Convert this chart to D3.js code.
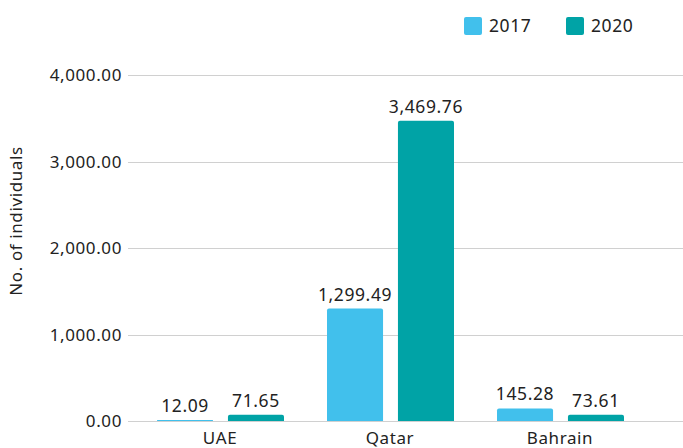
<!DOCTYPE html>
<html>
<head>
<meta charset="utf-8">
<script src="https://cdn.jsdelivr.net/npm/d3@7"></script>
<style>
  body { margin: 0; background: #fff; }
  text { font-family: "Noto Sans", Lato, sans-serif; fill: #222; letter-spacing: 0.6px; }
</style>
</head>
<body>
<div id="chart"></div>
<script>
var countries = ["UAE", "Qatar", "Bahrain"];
var seriesNames = ["2017", "2020"];
var values2017 = [12.09, 1299.49, 145.28];
var values2020 = [71.65, 3469.76, 73.61];
var yTicks = [0, 1000, 2000, 3000, 4000];
var colors = ["#41c0ec", "#00a3a6"];

var width = 683;
var height = 448;

var svg = d3.select("#chart").append("svg")
    .attr("width", width)
    .attr("height", height);

var x = d3.scaleBand()
    .domain(countries)
    .range([135, 645]);

var xInner = d3.scaleBand()
    .domain(seriesNames)
    .range([22, 149])
    .paddingInner(0.21);

var y = d3.scaleLinear()
    .domain([0, 4000])
    .range([421, 75]);

var fmt = d3.format(",.2f");

// gridlines
svg.append("g")
    .selectAll("line")
    .data(yTicks)
    .enter()
    .append("line")
    .attr("x1", 128)
    .attr("x2", 683)
    .attr("y1", function (d) { return Math.round(y(d)) + 0.5; })
    .attr("y2", function (d) { return Math.round(y(d)) + 0.5; })
    .attr("stroke", "#d0d0d0")
    .attr("stroke-width", 1);

// y tick labels
svg.append("g")
    .selectAll("text")
    .data(yTicks)
    .enter()
    .append("text")
    .attr("x", 122)
    .attr("y", function (d) { return y(d) + 6; })
    .attr("text-anchor", "end")
    .style("font-size", "17px")
    .text(function (d) { return fmt(d); });

// y axis title
svg.append("text")
    .attr("transform", "translate(22,221) rotate(-90)")
    .attr("text-anchor", "middle")
    .style("font-size", "17px")
    .text("No. of individuals");

var rows = [];
countries.forEach(function (c, i) {
    rows.push({ country: c, series: "2017", value: values2017[i], color: colors[0] });
    rows.push({ country: c, series: "2020", value: values2020[i], color: colors[1] });
});

var bars = svg.append("g");

bars.selectAll("path")
    .data(rows)
    .enter()
    .append("path")
    .attr("d", function (d) {
        var x0 = x(d.country) + xInner(d.series);
        var w = xInner.bandwidth();
        var y0 = y(d.value);
        var h = y(0) - y0;
        var r = Math.min(2, h / 2, w / 2);
        return "M" + x0 + "," + (y0 + h) +
            "V" + (y0 + r) +
            "Q" + x0 + "," + y0 + " " + (x0 + r) + "," + y0 +
            "H" + (x0 + w - r) +
            "Q" + (x0 + w) + "," + y0 + " " + (x0 + w) + "," + (y0 + r) +
            "V" + (y0 + h) + "Z";
    })
    .attr("fill", function (d) { return d.color; });

bars.selectAll("text")
    .data(rows)
    .enter()
    .append("text")
    .attr("x", function (d) { return x(d.country) + xInner(d.series) + xInner.bandwidth() / 2; })
    .attr("y", function (d) { return y(d.value) - 8; })
    .attr("text-anchor", "middle")
    .style("font-size", "17.5px")
    .text(function (d) { return fmt(d.value); });

// x labels
svg.append("g")
    .selectAll("text")
    .data(countries)
    .enter()
    .append("text")
    .attr("x", function (d) { return x(d) + x.bandwidth() / 2; })
    .attr("y", 444)
    .attr("text-anchor", "middle")
    .style("font-size", "17px")
    .text(function (d) { return d; });

// legend
var legendX = [464, 566];
var legend = svg.append("g")
    .selectAll("g")
    .data(seriesNames)
    .enter()
    .append("g")
    .attr("transform", function (d, i) { return "translate(" + legendX[i] + ",17)"; });

legend.append("rect")
    .attr("width", 18)
    .attr("height", 18)
    .attr("rx", 2)
    .attr("fill", function (d, i) { return colors[i]; });

legend.append("text")
    .attr("x", 25)
    .attr("y", 15)
    .style("font-size", "17.5px")
    .text(function (d) { return d; });
</script>
</body>
</html>
